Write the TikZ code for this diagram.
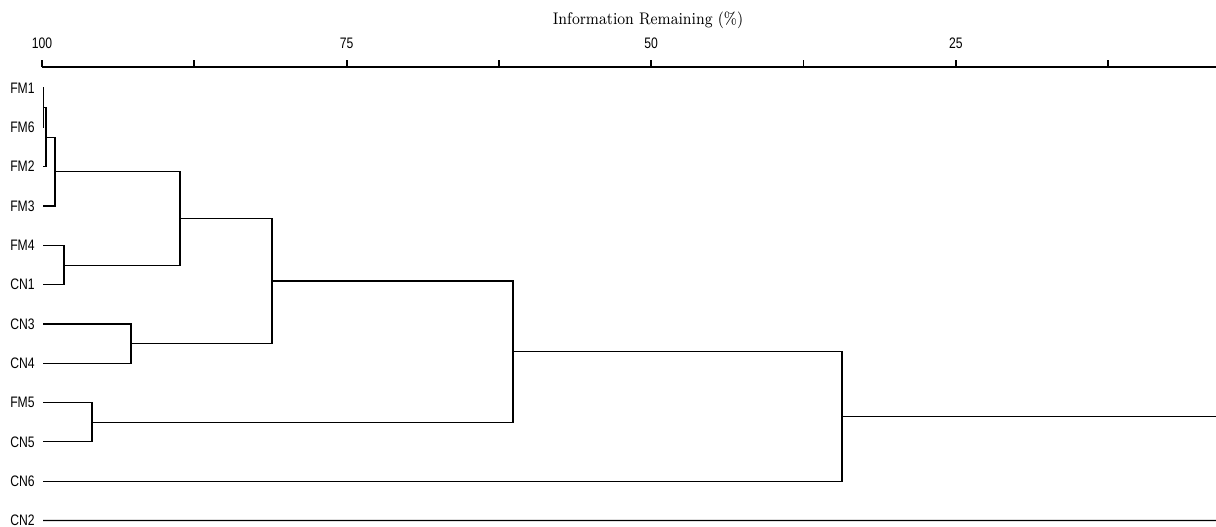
\documentclass[tikz,border=0pt]{standalone}
\usepackage{fontspec}
\newfontfamily\lblfont[FakeStretch=0.8]{Liberation Sans}
\newfontfamily\titlefont[FakeStretch=0.88]{Latin Modern Roman}
\usetikzlibrary{positioning}

\tikzset{
  leaf/.style={anchor=east, inner xsep=4pt, inner ysep=0pt, font=\lblfont\fontsize{7.6}{8}\selectfont},
  tick label/.style={font=\lblfont\fontsize{7.6}{8}\selectfont},
  axis/.style={line width=1.2pt},
  branch/.style={line width=0.6pt}
}

\begin{document}
\begin{tikzpicture}[x=0.5pt, y=-0.5pt]
  \useasboundingbox (0,0) rectangle (1216,526);

  % axis
  \node[font=\titlefont\fontsize{8.4}{9}\selectfont] (title) at (648,20) {Information Remaining (\%)};
  \draw[axis] (42,67) -- (1216,67);
  \foreach \k in {0,...,7}
    \draw[line width=0.9pt] (42+152.3*\k,67) -- ++(0,-7);
  \foreach \k/\v in {0/100,2/75,4/50,6/25}
    \node[tick label] (t\v) at (42+152.3*\k,43) {\v};

  % leaves
  \foreach \name [count=\i from 0] in {FM1,FM6,FM2,FM3,FM4,CN1,CN3,CN4,FM5,CN5,CN6,CN2}
    \node[leaf] (\name) at (43,88+39.32*\i) {\name};

  % merge points
  \coordinate (m1) at (43.5,107.7);
  \coordinate (m2) at (46,137.4);
  \coordinate (m3) at (55,171.7);
  \coordinate (m4) at (64,265.2);
  \coordinate (m5) at (180,218.5);
  \coordinate (m6) at (131,343.6);
  \coordinate (m7) at (272,281);
  \coordinate (m8) at (92,422.4);
  \coordinate (m9) at (513,351.7);
  \coordinate (m10) at (842,416.6);
  \coordinate (end10) at (1216,416.6);
  \coordinate (end2) at (1216,520.5);

  \begin{scope}[branch]
    \draw (FM1.east) -| (m1) |- (FM6.east);
    \draw (m1) -| (m2) |- (FM2.east);
    \draw (m2) -| (m3) |- (FM3.east);
    \draw (FM4.east) -| (m4) |- (CN1.east);
    \draw (m3) -| (m5) |- (m4);
    \draw (CN3.east) -| (m6) |- (CN4.east);
    \draw (m5) -| (m7) |- (m6);
    \draw (FM5.east) -| (m8) |- (CN5.east);
    \draw (m7) -| (m9) |- (m8);
    \draw (m9) -| (m10) |- (CN6.east);
    \draw (m10) -- (end10);
    \draw (CN2.east) -- (end2);
  \end{scope}
\end{tikzpicture}
\end{document}
